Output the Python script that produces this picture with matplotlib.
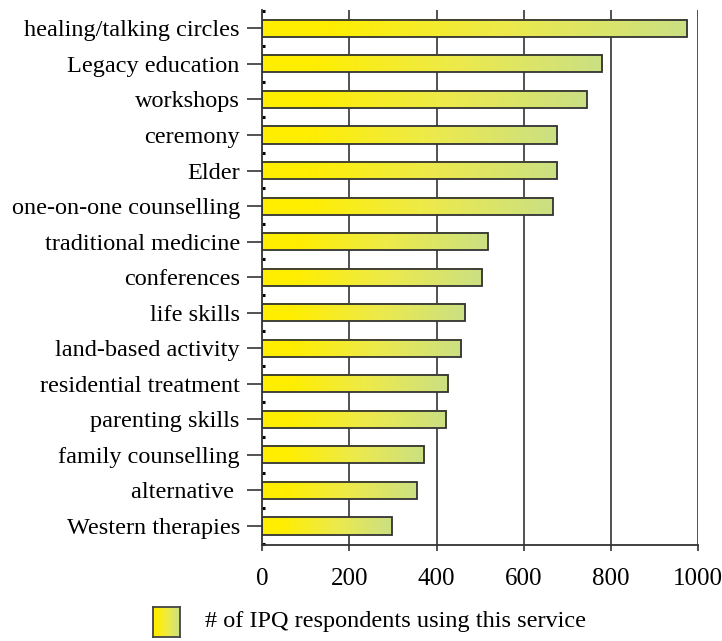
import numpy as np
import matplotlib
matplotlib.use("Agg")
import matplotlib.pyplot as plt
from matplotlib.colors import LinearSegmentedColormap

services = [
    "healing/talking circles", "Legacy education", "workshops", "ceremony",
    "Elder", "one-on-one counselling", "traditional medicine", "conferences",
    "life skills", "land-based activity", "residential treatment",
    "parenting skills", "family counselling", "alternative ", "Western therapies",
]
respondents = [975, 780, 745, 677, 677, 667, 518, 505, 466, 457, 427, 422, 372, 355, 297]
x_ticks = [0, 200, 400, 600, 800, 1000]
legend_label = "# of IPQ respondents using this service"

plt.rcParams["font.family"] = ["Liberation Serif", "DejaVu Serif"]
grad_cmap = LinearSegmentedColormap.from_list(
    "yg", [(0, "#FFEE00"), (0.15, "#FFEE00"), (0.55, "#EEEA48"), (1, "#CBE084")])
grad = np.linspace(0, 1, 256).reshape(1, -1)

fig = plt.figure(figsize=(7.22, 6.41), dpi=100)
ax = fig.add_axes([0.363, 0.150, 0.604, 0.834])

h = 0.48
ypos = np.arange(len(services))
for y, v in zip(ypos, respondents):
    ax.imshow(grad, cmap=grad_cmap, aspect="auto", extent=(0, v, y - h / 2, y + h / 2),
              zorder=2, interpolation="bilinear")
ax.barh(ypos, respondents, height=h, facecolor="none", edgecolor="#333333",
        linewidth=1.3, zorder=3)

ax.set_xlim(0, 1000)
ax.set_ylim(14.53, -0.51)
ax.set_xticks(x_ticks)
ax.set_yticks(ypos)
ax.set_yticklabels(services)
ax.set_yticks(np.arange(-0.5, 14.6, 1), minor=True)
ax.tick_params(axis="y", which="major", length=11, width=1.3, color="#444444",
               pad=5, labelsize=17.5)
ax.tick_params(axis="y", which="minor", direction="in", length=2.2, width=2.2, color="black")
ax.tick_params(axis="x", length=4, width=1.2, color="#333333", pad=13, labelsize=18)

for gx in x_ticks[1:]:
    ax.axvline(gx, color="#222222", linewidth=1.1, zorder=1)

ax.spines["top"].set_visible(False)
ax.spines["right"].set_visible(False)
ax.spines["left"].set_color("#333333")
ax.spines["left"].set_linewidth(1.3)
ax.spines["bottom"].set_color("#333333")
ax.spines["bottom"].set_linewidth(1.3)

# legend: gradient swatch + label
lax = fig.add_axes([153 / 722, 1 - 637 / 641, 27 / 722, 30 / 641])
lax.imshow(grad, cmap=grad_cmap, aspect="auto", interpolation="bilinear")
lax.set_xticks([])
lax.set_yticks([])
for sp in lax.spines.values():
    sp.set_color("#444444")
    sp.set_linewidth(1.3)
fig.text(205 / 722, 1 - 622 / 641, legend_label, fontsize=17.5, va="center", ha="left")

fig.savefig("out.png", dpi=100)
